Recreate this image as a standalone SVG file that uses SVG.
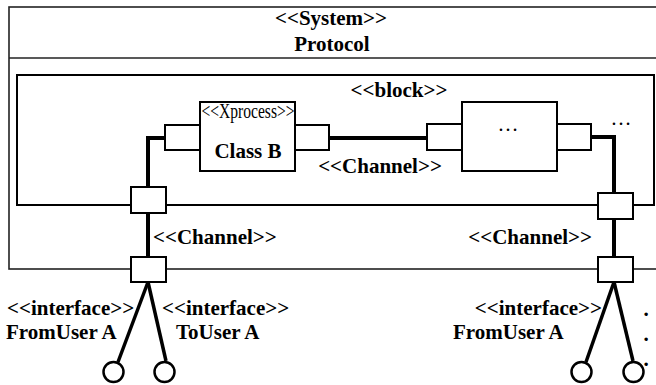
<svg xmlns="http://www.w3.org/2000/svg" width="656" height="385" viewBox="0 0 656 385">
<style>
text{font-family:"Liberation Serif","Times New Roman",serif;font-size:21px;font-weight:bold;fill:#000}
.frame{fill:none;stroke:#222;stroke-width:1.6}
.block{fill:none;stroke:#000;stroke-width:2}
.box{fill:#fff;stroke:#000;stroke-width:2}
.port{fill:#fff;stroke:#000;stroke-width:2}
.conn{fill:none;stroke:#000;stroke-width:4}
.ifc{fill:none;stroke:#000;stroke-width:3.5}
.ball{fill:#fff;stroke:#000;stroke-width:2.5}
.reg{font-weight:normal}
</style>
<g id="system">
<rect class="frame" x="9" y="7" width="660" height="262"/>
<line class="frame" x1="9" y1="58" x2="656" y2="58"/>
<text x="331" y="25" text-anchor="middle">&lt;&lt;System&gt;&gt;</text>
<text x="332" y="51" text-anchor="middle">Protocol</text>
</g>
<g id="block">
<rect class="block" x="17" y="75" width="637" height="130"/>
<text x="399" y="97" text-anchor="middle">&lt;&lt;block&gt;&gt;</text>
<text class="reg" x="621" y="125" text-anchor="middle">…</text>
</g>
<g id="connectors">
<polyline class="conn" points="329,138 427,138"/>
<polyline class="conn" points="165,138 148,138 148,187"/>
<line class="conn" x1="148" y1="213" x2="148" y2="257"/>
<polyline class="conn" points="591,137 614,137 614,193"/>
<line class="conn" x1="614" y1="219" x2="614" y2="257"/>
<line class="ifc" x1="148" y1="282" x2="118" y2="362"/>
<line class="ifc" x1="148" y1="282" x2="166" y2="361"/>
<line class="ifc" x1="614" y1="282" x2="586" y2="362"/>
<line class="ifc" x1="614" y1="282" x2="633" y2="361"/>
<text x="380" y="173" text-anchor="middle">&lt;&lt;Channel&gt;&gt;</text>
<text x="153" y="244">&lt;&lt;Channel&gt;&gt;</text>
<text x="592" y="244" text-anchor="end">&lt;&lt;Channel&gt;&gt;</text>
</g>
<g id="classB">
<rect class="box" x="200" y="102" width="95" height="69"/>
<text class="reg" x="248" y="118" text-anchor="middle" font-size="15" textLength="93" lengthAdjust="spacingAndGlyphs">&lt;&lt;Xprocess&gt;&gt;</text>
<text x="248" y="158" text-anchor="middle">Class B</text>
<rect class="port" x="165" y="125" width="35" height="25"/>
<rect class="port" x="295" y="125" width="34" height="25"/>
</g>
<g id="other">
<rect class="box" x="462" y="102" width="95" height="69"/>
<text class="reg" x="508" y="131" text-anchor="middle">…</text>
<rect class="port" x="427" y="124" width="35" height="26"/>
<rect class="port" x="557" y="124" width="34" height="26"/>
</g>
<g id="ports-left">
<rect class="port" x="131" y="187" width="35" height="26"/>
<rect class="port" x="131" y="257" width="35" height="25"/>
</g>
<g id="ports-right">
<rect class="port" x="598" y="193" width="35" height="26"/>
<rect class="port" x="598" y="257" width="35" height="25"/>
</g>
<g id="iface-left-from">
<circle class="ball" cx="113.5" cy="372" r="10"/>
<text x="7" y="315">&lt;&lt;interface&gt;&gt;</text>
<text x="6" y="339">FromUser A</text>
</g>
<g id="iface-left-to">
<circle class="ball" cx="164.5" cy="372" r="10"/>
<text x="162" y="315">&lt;&lt;interface&gt;&gt;</text>
<text x="176" y="339">ToUser A</text>
</g>
<g id="iface-right-from">
<circle class="ball" cx="581.5" cy="372" r="10"/>
<text x="602" y="315" text-anchor="end">&lt;&lt;interface&gt;&gt;</text>
<text x="453" y="339">FromUser A</text>
</g>
<g id="iface-right-more">
<circle class="ball" cx="633.5" cy="372" r="10"/>
<text x="646" y="316" text-anchor="middle">.</text>
<text x="646" y="341" text-anchor="middle">.</text>
<text x="646" y="366" text-anchor="middle">.</text>
</g>
</svg>
